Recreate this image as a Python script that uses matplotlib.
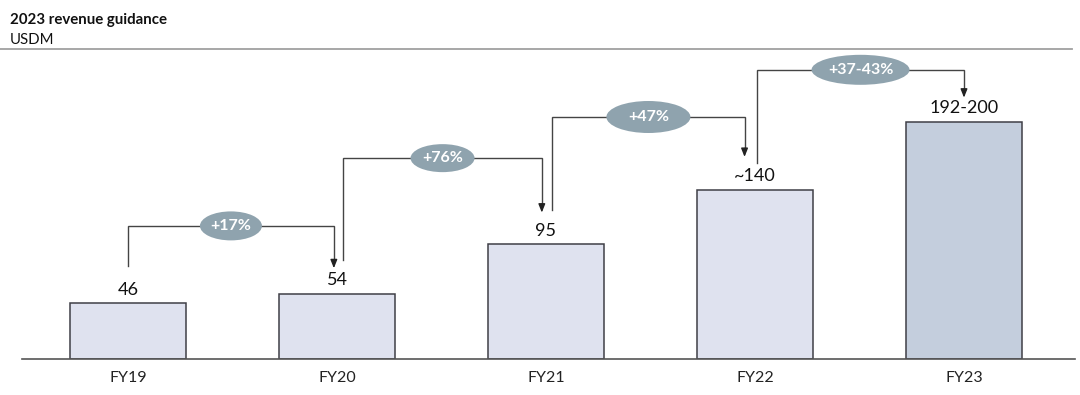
import matplotlib
matplotlib.use("Agg")
import matplotlib.pyplot as plt
from matplotlib.patches import Ellipse
from matplotlib.lines import Line2D

# ---- data ----
categories = ["FY19", "FY20", "FY21", "FY22", "FY23"]
revenue = [46, 54, 95, 140, 196]          # FY23 bar drawn at midpoint of 192-200 guidance
value_labels = ["46", "54", "95", "~140", "192-200"]
growth_labels = ["+17%", "+76%", "+47%", "+37-43%"]
bracket_levels = [110, 166, 200, 239]     # height of connector brackets (USDM units)

plt.rcParams['font.family'] = ['Lato', 'DejaVu Sans']

W, H = 1080, 395
fig = plt.figure(figsize=(W / 100, H / 100), dpi=100)

px_per_unit = 1.21
base_px = 359
ax_left, ax_right = 22, 1075
ax_h = 250 * px_per_unit
ax = fig.add_axes([ax_left / W, (H - base_px) / H, (ax_right - ax_left) / W, ax_h / H])
spacing = 209
c0 = 128
ax.set_xlim((ax_left - c0) / spacing, (ax_right - c0) / spacing)
ax.set_ylim(0, 250)

x = list(range(len(categories)))
colors = ["#dfe2ef"] * 4 + ["#c4cedd"]
ax.bar(x, revenue, width=116 / spacing, color=colors, edgecolor="#3f3f46", linewidth=1.1, zorder=2)

for s in ["top", "right", "left"]:
    ax.spines[s].set_visible(False)
ax.spines["bottom"].set_color("#555555")
ax.spines["bottom"].set_linewidth(1.2)
ax.set_yticks([])
ax.set_xticks(x)
ax.set_xticklabels(categories, fontsize=11.5, color="#222222")
ax.tick_params(axis="x", length=0, pad=8.5)

# value labels
for xi, v, lab in zip(x, revenue, value_labels):
    ax.text(xi, v + 4.5, lab, ha="center", va="bottom", fontsize=13, color="#111111")

# growth brackets
start_off = [0.0, 0.03, 0.03, 0.01]
end_off = [-0.015, -0.02, -0.05, 0.0]
start_gap = [31, 28, 28, 22]
end_gap = [21, 26, 27, 20]
ell_w = [62, 64, 84, 98]
ell_h = [29, 28, 32, 30]
for i, g in enumerate(growth_labels):
    xs = x[i] + start_off[i]
    xe = x[i + 1] + end_off[i]
    ys = revenue[i] + start_gap[i]
    ye = revenue[i + 1] + end_gap[i]
    yb = bracket_levels[i]
    ax.plot([xs, xs, xe, xe], [ys, yb, yb, ye + 6], color="#444444", lw=1.0,
            solid_joinstyle="miter", clip_on=False, zorder=3)
    ax.annotate("", xy=(xe, ye), xytext=(xe, ye + 7),
                arrowprops=dict(arrowstyle="-|>,head_width=0.2,head_length=0.5",
                                color="#222222", lw=1.0, shrinkA=0, shrinkB=0),
                annotation_clip=False, zorder=4)
    xm = (xs + xe) / 2
    e = Ellipse((xm, yb), ell_w[i] / spacing, ell_h[i] / px_per_unit,
                facecolor="#8fa3ae", edgecolor="none", zorder=5, clip_on=False)
    ax.add_patch(e)
    ax.text(xm, yb, g, ha="center", va="center", fontsize=11.5, fontweight="bold",
            color="white", zorder=6)

# header
fig.text(10 / W, 1 - 20 / H, "2023 revenue guidance", ha="left", va="center",
         fontsize=10.8, fontweight="bold", color="#111111")
fig.text(10 / W, 1 - 40 / H, "USDM", ha="left", va="center", fontsize=10.8, color="#111111")
fig.add_artist(Line2D([0, 1072 / W], [1 - 49 / H, 1 - 49 / H], color="#a0a0a0", lw=1.3))

fig.savefig("out.png", dpi=100)
